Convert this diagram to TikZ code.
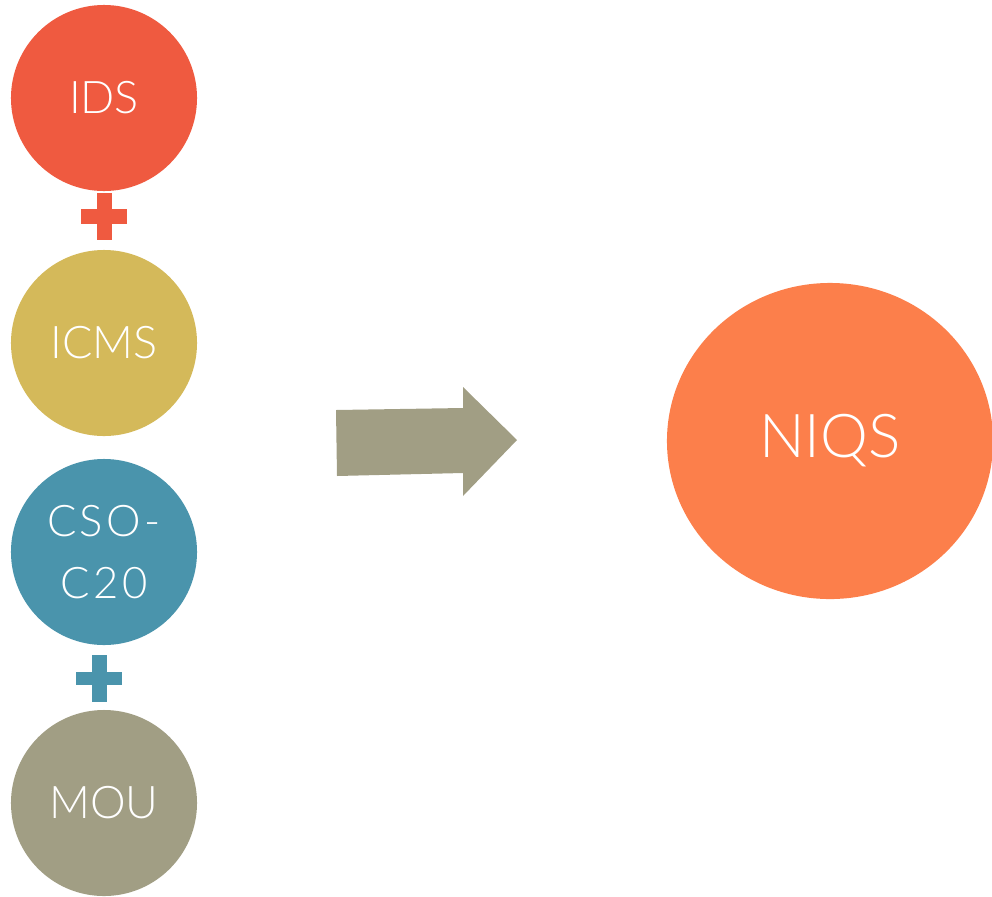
\documentclass[tikz,border=0pt]{standalone}
\usepackage{fontspec}
\setmainfont{Lato}[UprightFont={* Light}]
\usetikzlibrary{positioning, shapes.geometric, shapes.arrows}
\definecolor{idsred}{HTML}{EF5A40}
\definecolor{icmsgold}{HTML}{D4B95A}
\definecolor{csoblue}{HTML}{4A94AC}
\definecolor{mougrey}{HTML}{A19E84}
\definecolor{niqsorange}{HTML}{FC7F4B}
\tikzset{
x=0.025cm, y=-0.025cm, % one unit is one pixel of the layout
every node/.style={text=white}, % all labels are white
ball/.style={circle, minimum size=4.65cm, inner sep=0pt, font=\fontsize{32}{36}\selectfont}, % the small circles on the left
plusbar/.style={fill=#1, draw=none}, % the bars of a plus sign
}

\begin{document}
\begin{tikzpicture}
        \useasboundingbox (0,0) rectangle (992,896);
        \node[ball, fill=idsred] (ids) at (104,98) {IDS};
        \node[ball, fill=icmsgold] (icms) at (104,343) {ICMS};
        \node[ball, fill=csoblue, align=center, font=\fontsize{31}{44}\selectfont] (cso) at (104,552) {\addfontfeature{LetterSpace=8}CSO-\\\addfontfeature{LetterSpace=8}C20};
        \node[ball, fill=mougrey] (mou) at (104,803) {MOU};
        \node[ellipse, fill=niqsorange, minimum width=8.15cm, minimum height=7.9cm, inner sep=0pt,
              font=\fontsize{43}{50}\selectfont] (niqs) at (830,441) {NIQS};

        % plus signs between the circles
        \coordinate (p1) at (104,216.5);
        \coordinate (p2) at (99,678.5);
        \fill[plusbar=idsred] ([xshift=-7.5*0.025cm, yshift=23.5*0.025cm]p1) rectangle ([xshift=7.5*0.025cm, yshift=-23.5*0.025cm]p1);
        \fill[plusbar=idsred] ([xshift=-23*0.025cm, yshift=7.5*0.025cm]p1) rectangle ([xshift=23*0.025cm, yshift=-7.5*0.025cm]p1);
        \fill[plusbar=csoblue] ([xshift=-7.5*0.025cm, yshift=23.5*0.025cm]p2) rectangle ([xshift=7.5*0.025cm, yshift=-23.5*0.025cm]p2);
        \fill[plusbar=csoblue] ([xshift=-23*0.025cm, yshift=6.5*0.025cm]p2) rectangle ([xshift=23*0.025cm, yshift=-6.5*0.025cm]p2);

        % the big arrow
        \fill[mougrey] (336,410) -- (463,408) -- (463,387) -- (517,440) -- (463,496) -- (463,473) -- (337,476) -- cycle;
    \end{tikzpicture}
\end{document}
